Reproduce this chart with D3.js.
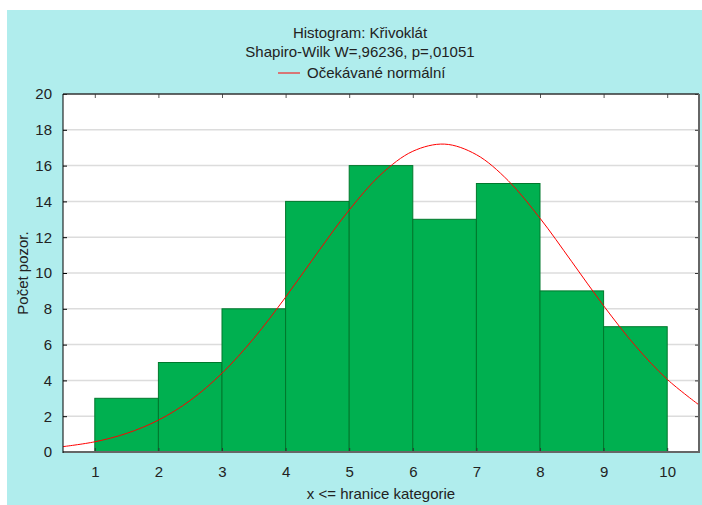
<!DOCTYPE html>
<html><head><meta charset="utf-8">
<script src="https://cdn.jsdelivr.net/npm/d3@7"></script>
<style>html,body{margin:0;padding:0;background:#fff;}svg{display:block;}</style>
</head><body>
<svg id="c" width="702" height="505"></svg>
<script>
// Data
const binEdges = [1, 2, 3, 4, 5, 6, 7, 8, 9, 10];
const counts = [3, 5, 8, 14, 16, 13, 15, 9, 7];
const curveX = [0.5, 1, 1.5, 2, 2.5, 3, 3.5, 4, 4.5, 5, 5.5, 6, 6.5, 7, 7.5, 8, 8.5, 9, 9.5, 10, 10.5];
const curveY = [0.30, 0.57, 1.04, 1.78, 2.88, 4.40, 6.35, 8.65, 11.13, 13.52, 15.51, 16.80, 17.2, 16.61, 15.16, 13.06, 10.63, 8.17, 5.93, 4.06, 2.63];
const xTicks = [1, 2, 3, 4, 5, 6, 7, 8, 9, 10];
const yTicks = [0, 2, 4, 6, 8, 10, 12, 14, 16, 18, 20];
const title = "Histogram: Křivoklát";
const subtitle = "Shapiro-Wilk W=,96236, p=,01051";
const legendLabel = "Očekávané normální";
const xTitle = "x <= hranice kategorie";
const yTitle = "Počet pozor.";

const svg = d3.select("#c");
const font = "'Liberation Sans', Arial, sans-serif";
const L = 63, R = 699, T = 94, B = 452;

svg.append("rect").attr("x", 7).attr("y", 10).attr("width", 695).attr("height", 495).attr("fill", "#b0eded");
svg.append("rect").attr("x", L).attr("y", T).attr("width", R - L).attr("height", B - T).attr("fill", "#fff");

const x = d3.scaleLinear().domain([0.5, 10.5]).range([L, R]);
const y = d3.scaleLinear().domain([0, 20]).range([B, T]);

// gridlines
svg.append("g").selectAll("line").data(yTicks.filter(d => d > 0 && d < 20)).join("line")
  .attr("x1", L).attr("x2", R).attr("y1", d => y(d)).attr("y2", d => y(d))
  .attr("stroke", "#dcdcdc").attr("stroke-width", 1.5);

// bars
const bars = counts.map((c, i) => ({x0: binEdges[i], x1: binEdges[i + 1], v: c}));
svg.append("g").selectAll("rect").data(bars).join("rect")
  .attr("x", d => x(d.x0)).attr("y", d => y(d.v))
  .attr("width", d => x(d.x1) - x(d.x0)).attr("height", d => y(0) - y(d.v))
  .attr("fill", "#00b050").attr("stroke", "#00782c").attr("stroke-width", 1);

// curve
const pts = curveX.map((d, i) => [d, curveY[i]]);
svg.append("path").datum(pts)
  .attr("d", d3.line().x(d => x(d[0])).y(d => y(d[1])).curve(d3.curveCatmullRom))
  .attr("fill", "none").attr("stroke", "#ff0000").attr("stroke-width", 1);

// axes
const gl = svg.append("g").attr("transform", `translate(${L},0)`)
  .call(d3.axisLeft(y).tickValues(yTicks).tickSize(-4).tickPadding(11).tickFormat(d3.format("d")));
gl.select(".domain").remove();
gl.selectAll("line").attr("stroke", "#000");
gl.selectAll("text").attr("font-family", font).attr("font-size", 15).attr("fill", "#222");

const gr = svg.append("g").attr("transform", `translate(${R},0)`)
  .call(d3.axisRight(y).tickValues(yTicks).tickSize(-4).tickFormat(""));
gr.select(".domain").remove();
gr.selectAll("line").attr("stroke", "#333");

const gb = svg.append("g").attr("transform", `translate(0,${B})`)
  .call(d3.axisBottom(x).tickValues(xTicks).tickSize(-4).tickPadding(14).tickFormat(d3.format("d")));
gb.select(".domain").remove();
gb.selectAll("line").attr("stroke", "#333");
gb.selectAll("text").attr("font-family", font).attr("font-size", 15).attr("fill", "#222");

const gt = svg.append("g").attr("transform", `translate(0,${T})`)
  .call(d3.axisTop(x).tickValues(xTicks).tickSize(-4).tickFormat(""));
gt.select(".domain").remove();
gt.selectAll("line").attr("stroke", "#555");

// frame
svg.append("line").attr("x1", L).attr("x2", R).attr("y1", T).attr("y2", T).attr("stroke", "#333").attr("stroke-width", 1.5);
svg.append("line").attr("x1", R).attr("x2", R).attr("y1", T).attr("y2", B).attr("stroke", "#666").attr("stroke-width", 2);
svg.append("line").attr("x1", L).attr("x2", R + 1).attr("y1", B).attr("y2", B).attr("stroke", "#666").attr("stroke-width", 2);
svg.append("line").attr("x1", L).attr("x2", L).attr("y1", T).attr("y2", B + 1).attr("stroke", "#000").attr("stroke-width", 1);

// titles
const cx = 360;
svg.append("text").attr("x", cx).attr("y", 38).attr("text-anchor", "middle")
  .attr("font-family", font).attr("font-size", 15).attr("fill", "#222").text(title);
svg.append("text").attr("x", cx).attr("y", 57).attr("text-anchor", "middle")
  .attr("font-family", font).attr("font-size", 15).attr("fill", "#222").text(subtitle);
svg.append("line").attr("x1", 278).attr("x2", 300).attr("y1", 73).attr("y2", 73).attr("stroke", "#ff0000").attr("stroke-width", 1);
svg.append("text").attr("x", 307).attr("y", 78)
  .attr("font-family", font).attr("font-size", 15).attr("fill", "#222").text(legendLabel);

svg.append("text").attr("x", (L + R) / 2).attr("y", 499).attr("text-anchor", "middle")
  .attr("font-family", font).attr("font-size", 15).attr("fill", "#222").text(xTitle);
svg.append("text").attr("transform", `translate(28,${(T + B) / 2}) rotate(-90)`).attr("text-anchor", "middle")
  .attr("font-family", font).attr("font-size", 15).attr("fill", "#222").text(yTitle);
</script>
</body></html>
